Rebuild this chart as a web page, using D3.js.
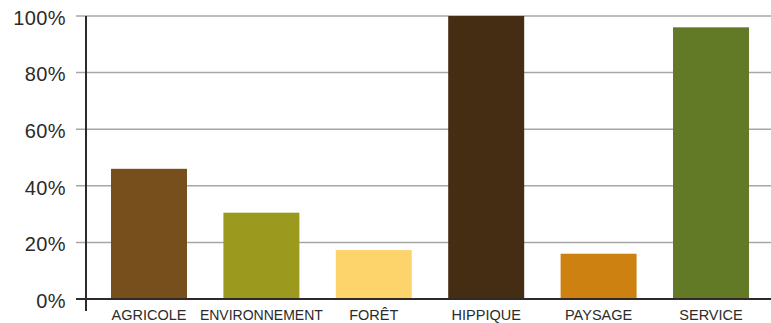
<!DOCTYPE html>
<html>
<head>
<meta charset="utf-8">
<script src="https://cdn.jsdelivr.net/npm/d3@7"></script>
<style>
  html, body { margin: 0; padding: 0; background: #fff; }
  svg { display: block; }
  text { font-family: "Liberation Sans", Arial, Helvetica, sans-serif; }
</style>
</head>
<body>
<svg id="chart" width="771" height="323"></svg>
<script>
// Share of each sector (percent)
const categories = ["AGRICOLE", "ENVIRONNEMENT", "FORÊT", "HIPPIQUE", "PAYSAGE", "SERVICE"];
const values = [46, 30.5, 17.3, 100, 16, 96];
const colors = ["#774F1C", "#9C9A1E", "#FDD46C", "#452D13", "#CC8110", "#627A26"];
const yTicks = [0, 20, 40, 60, 80, 100];

const svg = d3.select("#chart");
const axisX = 86, plotRight = 771, plotTop = 16, plotBottom = 299;

const x = d3.scaleBand()
  .domain(categories)
  .range([92.8, 767.2])
  .paddingInner(0.324)
  .paddingOuter(0.162);

const y = d3.scaleLinear().domain([0, 100]).range([plotBottom, plotTop]);

// Horizontal grid lines
svg.append("g").selectAll("line")
  .data(yTicks.filter(d => d > 0))
  .join("line")
  .attr("x1", 76).attr("x2", plotRight)
  .attr("y1", d => y(d)).attr("y2", d => y(d))
  .attr("stroke", "#a6a6a6").attr("stroke-width", 1.5);

// Percentage labels
svg.append("g").selectAll("text")
  .data(yTicks)
  .join("text")
  .attr("x", 66).attr("y", d => y(d) + 1.5)
  .attr("dy", "0.36em")
  .attr("text-anchor", "end")
  .attr("font-size", 20)
  .attr("letter-spacing", 0.4)
  .attr("fill", "#2b2b2b")
  .text(d => d + "%");

// Bars
svg.append("g").selectAll("rect")
  .data(categories)
  .join("rect")
  .attr("x", d => x(d))
  .attr("width", x.bandwidth())
  .attr("y", (d, i) => y(values[i]))
  .attr("height", (d, i) => plotBottom - y(values[i]))
  .attr("fill", (d, i) => colors[i]);

// Baseline and vertical axis
svg.append("line")
  .attr("x1", 76).attr("x2", plotRight)
  .attr("y1", plotBottom).attr("y2", plotBottom)
  .attr("stroke", "#2f2a28").attr("stroke-width", 2);
svg.append("line")
  .attr("x1", axisX).attr("x2", axisX)
  .attr("y1", plotTop).attr("y2", 311)
  .attr("stroke", "#2f2a28").attr("stroke-width", 2);

// Category labels (the long one is squeezed to fit its slot)
svg.append("g").selectAll("text")
  .data(categories)
  .join("text")
  .attr("x", d => x(d) + x.bandwidth() / 2)
  .attr("y", 320)
  .attr("text-anchor", "middle")
  .attr("font-size", 14.5)
  .attr("fill", "#2b2b2b")
  .each(function (d) {
    if (d.length > 10) {
      d3.select(this).attr("textLength", 123).attr("lengthAdjust", "spacingAndGlyphs");
    }
  })
  .text(d => d);
</script>
</body>
</html>
